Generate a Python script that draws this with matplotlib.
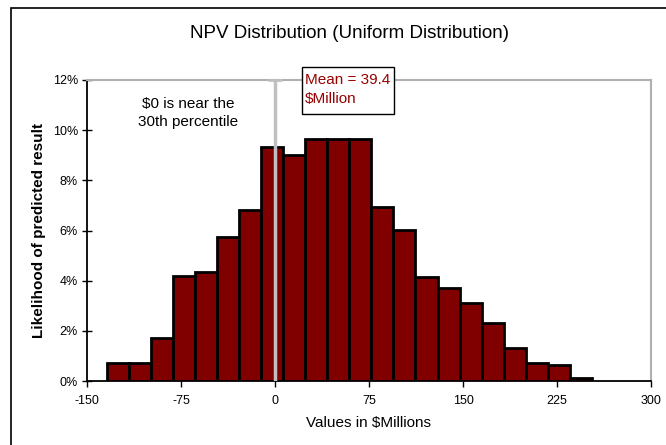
import matplotlib
matplotlib.use("Agg")
import matplotlib.pyplot as plt
from matplotlib.patches import Rectangle
from matplotlib.ticker import FuncFormatter

plt.rcParams['font.family'] = ['Liberation Sans', 'DejaVu Sans']
plt.rcParams['axes.unicode_minus'] = False

# Data
bin_centers = [-125.5, -107.9, -90.3, -72.7, -55.1, -37.5, -19.9, -2.3, 15.3, 32.9, 50.5,
               68.1, 85.7, 103.3, 120.9, 138.5, 156.1, 173.7, 191.3, 208.9, 226.5, 244.1]
likelihood_pct = [0.73, 0.73, 1.72, 4.20, 4.34, 5.73, 6.83, 9.32, 9.02, 9.64, 9.64,
                  9.64, 6.92, 6.01, 4.14, 3.70, 3.12, 2.32, 1.33, 0.73, 0.62, 0.13]
bin_width = 17.6
x_ticks = [-150, -75, 0, 75, 150, 225, 300]
y_ticks = [0, 2, 4, 6, 8, 10, 12]
marker_x = 0
mean_label = "Mean = 39.4\n$Million"
note_label = "$0 is near the\n30th percentile"

W, H = 666, 445
fig = plt.figure(figsize=(W / 100, H / 100), dpi=100)
fig.patch.set_facecolor('white')

# outer chart-area frame (left and top visible)
fig.add_artist(Rectangle((11 / W, -0.1), 1.2, 1 - 8 / H + 0.1, transform=fig.transFigure,
                         fill=False, edgecolor='black', linewidth=1.2))

ax = fig.add_axes([87 / W, 1 - 381 / H, (651 - 87) / W, (381 - 80) / H])
ax.set_facecolor('white')

ax.bar(bin_centers, likelihood_pct, width=bin_width, color='#800000',
       edgecolor='black', linewidth=2.0, zorder=3)

# gray marker line at $0 with a small cap
ax.plot([marker_x, marker_x], [0, 12], color='#c0c0c0', linewidth=2.5, zorder=4,
        solid_capstyle='butt')
ax.plot([marker_x], [12], marker='_', markersize=10, markeredgewidth=2.0,
        color='#c0c0c0', zorder=4, clip_on=False)

ax.set_xlim(-150, 300)
ax.set_ylim(0, 12)
ax.set_xticks(x_ticks)
ax.set_yticks(y_ticks)
ax.yaxis.set_major_formatter(FuncFormatter(lambda v, p: f"{v:.0f}%"))
ax.tick_params(axis='y', direction='inout', length=7, width=1, labelsize=9,
               colors='black', pad=3)
ax.tick_params(axis='x', direction='out', length=4, width=1, labelsize=9, pad=6)

for side in ('left', 'bottom'):
    ax.spines[side].set_color('black')
    ax.spines[side].set_linewidth(1.3)
for side in ('top', 'right'):
    ax.spines[side].set_color('#b0b0b0')
    ax.spines[side].set_linewidth(1.5)

fig.text(369 / W, 1 - 423 / H, "Values in $Millions", fontsize=11,
         ha='center', va='center')
fig.text(39 / W, 1 - 230 / H, "Likelihood of predicted result", rotation=90,
         fontsize=11, fontweight='bold', ha='center', va='center')

fig.text(350 / W, 1 - 33 / H, "NPV Distribution (Uniform Distribution)",
         fontsize=13.5, ha='center', va='center')

fig.text(188 / W, 1 - 113 / H, note_label, fontsize=11, ha='center', va='center',
         linespacing=1.4)

# annotation box
fig.add_artist(Rectangle((302 / W, 1 - 114 / H), 92 / W, 47 / H, transform=fig.transFigure,
                         facecolor='white', edgecolor='black', linewidth=1.0, zorder=5))
fig.text(305 / W, 1 - 89.5 / H, mean_label, fontsize=11, color='#990000',
         ha='left', va='center', linespacing=1.45, zorder=6)

fig.savefig("out.png", dpi=100)
